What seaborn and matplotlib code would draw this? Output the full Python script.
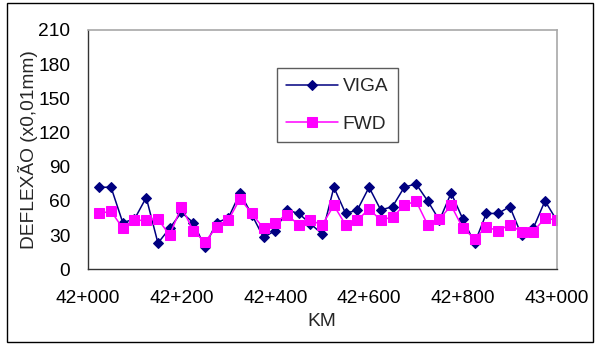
import matplotlib
matplotlib.use("Agg")
import matplotlib.pyplot as plt
import seaborn as sns
import pandas as pd
from matplotlib.patches import Rectangle

# Station positions (metres after km 42+000), one reading every 25 m
estaca_m = [25, 50, 75, 100, 125, 150, 175, 200, 225, 250,
            275, 300, 325, 350, 375, 400, 425, 450, 475, 500,
            525, 550, 575, 600, 625, 650, 675, 700, 725, 750,
            775, 800, 825, 850, 875, 900, 925, 950, 975, 1000]

# Deflection measured with the Benkelman beam (x0,01 mm)
viga = [72, 72, 41, 44, 63, 23, 36, 50, 41, 20,
        41, 45, 67, 48, 28, 34, 52, 49, 40, 31,
        72, 49, 52, 72, 52, 55, 72, 75, 60, 43,
        67, 44, 23, 49, 49, 55, 30, 36, 60, 43]

# Deflection measured with the FWD (x0,01 mm)
fwd = [49, 51, 36, 43, 43, 44, 30, 55, 34, 24,
       37, 43, 62, 49, 36, 41, 48, 39, 43, 39,
       56, 39, 43, 53, 43, 46, 56, 60, 39, 44,
       56, 36, 27, 37, 34, 39, 33, 33, 45, 43]

x_ticks = [0, 200, 400, 600, 800, 1000]
x_tick_labels = ["42+000", "42+200", "42+400", "42+600", "42+800", "43+000"]
y_ticks = [0, 30, 60, 90, 120, 150, 180, 210]

FS = 13.8

sns.set_style("white")
plt.rcParams["font.family"] = ["Liberation Sans", "DejaVu Sans"]

df = pd.DataFrame({"km": estaca_m, "VIGA": viga, "FWD": fwd})

fig = plt.figure(figsize=(5.97, 3.46), dpi=100)
ax = fig.add_axes([0.1467, 0.2217, 0.7858, 0.6916])

sns.lineplot(data=df, x="km", y="VIGA", ax=ax, color="#000080",
             marker="D", markersize=5.5, markeredgecolor="#000080",
             linewidth=1.1, label="VIGA")
sns.lineplot(data=df, x="km", y="FWD", ax=ax, color="#FF00FF",
             marker="s", markersize=7.3, markeredgecolor="#FF00FF",
             linewidth=1.1, label="FWD")

ax.set_xlim(0, 1000)
ax.set_ylim(0, 210)
ax.set_xticks(x_ticks)
ax.set_xticklabels(x_tick_labels)
ax.set_yticks(y_ticks)
ax.tick_params(axis="both", direction="out", length=5, width=1,
               color="#333333", labelsize=FS, labelcolor="black")
ax.tick_params(axis="x", pad=10)
ax.tick_params(axis="y", pad=7.5)

for side in ("left", "bottom"):
    ax.spines[side].set_color("#333333")
    ax.spines[side].set_linewidth(1.0)
for side in ("top", "right"):
    ax.spines[side].set_visible(True)
    ax.spines[side].set_color("#a8a8a8")
    ax.spines[side].set_linewidth(1.2)

ax.set_xlabel("KM", fontsize=FS, labelpad=4.5)
ax.set_ylabel("DEFLEXÃO (x0,01mm)", fontsize=FS, labelpad=0.5)

leg = ax.legend(loc="upper left", bbox_to_anchor=(0.403, 0.840),
                frameon=True, fancybox=False, fontsize=FS,
                handlelength=2.7, handletextpad=0.25, labelspacing=1.04,
                borderpad=0.5, borderaxespad=0)
leg.get_frame().set_edgecolor("#333333")
leg.get_frame().set_linewidth(1.0)

# Outer chart border
fig.patches.append(Rectangle((0.0117, 0.0116), 0.9816, 0.9797,
                             transform=fig.transFigure, fill=False,
                             edgecolor="black", linewidth=1.0))

fig.savefig("out.png", dpi=100)
